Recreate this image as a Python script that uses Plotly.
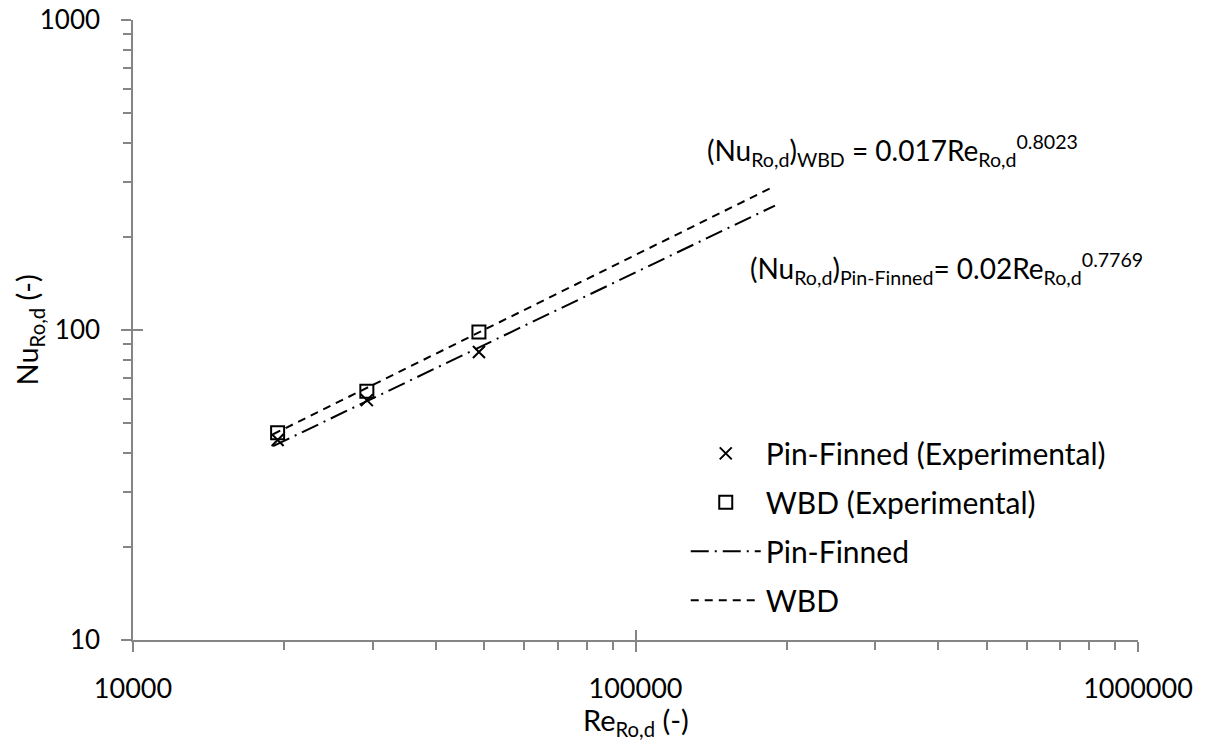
import plotly.graph_objects as go

# Experimental data
re_exp = [19400, 29200, 48800]
nu_pin_exp = [44.2, 59.4, 84.9]
nu_wbd_exp = [46.6, 63.5, 98.5]

# Power-law fit lines (end points)
re_fit = [19000, 189500]
nu_pin_fit = [42.2, 252]
nu_wbd_fit = [46.1, 291.6]

x_ticks = [10000, 100000, 1000000]
y_ticks = [10, 100, 1000]

FONT = "Lato"
AX = "#858585"

fig = go.Figure()
fig.add_trace(go.Scatter(x=re_exp, y=nu_pin_exp, mode="markers", name="Pin-Finned (Experimental)",
                         marker=dict(symbol="x-thin", size=12, line=dict(width=2, color="black"), color="black"),
                         legendgroup="a"))
fig.add_trace(go.Scatter(x=re_exp, y=nu_wbd_exp, mode="markers", name="WBD (Experimental)",
                         marker=dict(symbol="square-open", size=13, line=dict(width=2), color="black"),
                         legendgroup="b"))
fig.add_trace(go.Scatter(x=re_fit, y=nu_pin_fit, mode="lines", name="Pin-Finned",
                         line=dict(color="black", width=2, dash="18px,6px,2px,6px"), legendgroup="c"))
fig.add_trace(go.Scatter(x=re_fit, y=nu_wbd_fit, mode="lines", name="WBD",
                         line=dict(color="black", width=2, dash="8px,6px"), legendgroup="d"))
# invisible trace for overlay axes (inside half of crossing major ticks)
fig.add_trace(go.Scatter(x=re_fit, y=nu_pin_fit, xaxis="x2", yaxis="y2", mode="lines",
                         line=dict(width=0), showlegend=False, hoverinfo="skip", opacity=0))

common = dict(type="log", showgrid=False, zeroline=False, showline=True, linecolor=AX, linewidth=1.5,
              automargin=False, ticklabeloverflow="allow")
minor = dict(ticks="outside", ticklen=8, tickcolor=AX, tickwidth=1.5, showgrid=False, dtick="D1")

fig.update_layout(
    width=1205, height=742,
    paper_bgcolor="white", plot_bgcolor="white",
    margin=dict(l=133, r=67, t=20, b=102),
    font=dict(family=FONT, size=26, color="black"),
    xaxis=dict(**common, range=[4, 6], tickvals=x_ticks, ticktext=[str(v) for v in x_ticks],
               ticks="outside", ticklen=10, tickcolor=AX, tickwidth=1.5, minor=minor,
               ticklabelstandoff=14, tickfont=dict(size=27)),
    yaxis=dict(**common, range=[1, 3], tickvals=y_ticks, ticktext=[str(v) for v in y_ticks],
               ticks="outside", ticklen=10, tickcolor=AX, tickwidth=1.5, minor=minor,
               ticklabelstandoff=16, tickfont=dict(size=26)),
    xaxis2=dict(type="log", range=[4, 6], overlaying="x", side="bottom", showgrid=False, zeroline=False,
                showline=False, tickvals=x_ticks, showticklabels=False, ticks="inside", ticklen=10,
                tickcolor=AX, tickwidth=1.5, anchor="y2", automargin=False),
    yaxis2=dict(type="log", range=[1, 3], overlaying="y", side="left", showgrid=False, zeroline=False,
                showline=False, tickvals=y_ticks, showticklabels=False, ticks="inside", ticklen=10,
                tickcolor=AX, tickwidth=1.5, anchor="x2", automargin=False),
    legend=dict(x=0.55, y=0.343, xanchor="left", yanchor="top", bgcolor="rgba(0,0,0,0)",
                font=dict(size=30), tracegroupgap=7, itemwidth=70),
    showlegend=True,
)

# axis titles
fig.add_annotation(xref="paper", yref="paper", x=0.5, y=-0.131, xanchor="center", yanchor="middle",
                   showarrow=False, font=dict(size=29), text="Re<sub>Ro,d</sub> (-)")
fig.add_annotation(xref="paper", yref="paper", x=-0.104, y=0.5, xanchor="center", yanchor="middle",
                   showarrow=False, font=dict(size=29), textangle=-90, text="Nu<sub>Ro,d</sub> (-)")

# fit equations
fig.add_annotation(xref="paper", yref="paper", x=0.569, y=0.79, xanchor="left", yanchor="middle",
                   showarrow=False, font=dict(size=28),
                   text="(Nu<sub>Ro,d</sub>)<sub>WBD</sub> = 0.017Re<sub>Ro,d</sub><sup>0.8023</sup>")
fig.add_annotation(xref="paper", yref="paper", x=0.612, y=0.60, xanchor="left", yanchor="middle",
                   showarrow=False, font=dict(size=28),
                   text="(Nu<sub>Ro,d</sub>)<sub>Pin-Finned</sub>= 0.02Re<sub>Ro,d</sub><sup>0.7769</sup>")

fig.write_html("out.html", config={"displayModeBar": False},
               post_script="document.body.style.margin='0';")
